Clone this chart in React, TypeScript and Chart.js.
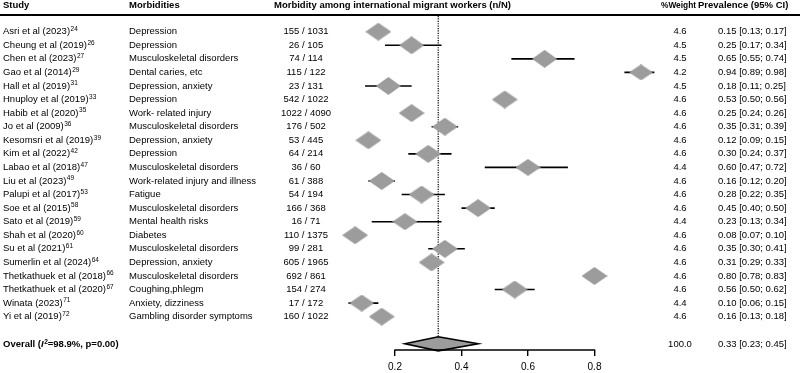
import React, { useEffect, useRef } from "react";
import { Chart, registerables } from "chart.js";

Chart.register(...registerables);

const studies = [
  "Asri et al (2023)", "Cheung et al (2019)", "Chen et al (2023)", "Gao et al (2014)",
  "Hall et al (2019)", "Hnuploy et al (2019)", "Habib et al (2020)", "Jo et al (2009)",
  "Kesomsri et al (2019)", "Kim et al (2022)", "Labao et al (2018)", "Liu et al (2023)",
  "Palupi et al (2017)", "Soe et al (2015)", "Sato et al (2019)", "Shah et al (2020)",
  "Su et al (2021)", "Sumerlin et al (2024)", "Thetkathuek et al (2018)", "Thetkathuek et al (2020)",
  "Winata (2023)", "Yi et al (2019)",
];
const refs = ["24", "26", "27", "29", "31", "33", "35", "36", "39", "42", "47", "49", "53", "58", "59", "60", "61", "64", "66", "67", "71", "72"];
const morbidities = [
  "Depression", "Depression", "Musculoskeletal disorders", "Dental caries, etc",
  "Depression, anxiety", "Depression", "Work- related injury", "Musculoskeletal disorders",
  "Depression, anxiety", "Depression", "Musculoskeletal disorders", "Work-related injury and illness",
  "Fatigue", "Musculoskeletal disorders", "Mental health risks", "Diabetes",
  "Musculoskeletal disorders", "Depression, anxiety", "Musculoskeletal disorders", "Coughing,phlegm",
  "Anxiety, dizziness", "Gambling disorder symptoms",
];
const cases = [155, 26, 74, 115, 23, 542, 1022, 176, 53, 64, 36, 61, 54, 166, 16, 110, 99, 605, 692, 154, 17, 160];
const totals = [1031, 105, 114, 122, 131, 1022, 4090, 502, 445, 214, 60, 388, 194, 368, 71, 1375, 281, 1965, 861, 274, 172, 1022];
const weights = [4.6, 4.5, 4.5, 4.2, 4.5, 4.6, 4.6, 4.6, 4.6, 4.6, 4.4, 4.6, 4.6, 4.6, 4.4, 4.6, 4.6, 4.6, 4.6, 4.6, 4.4, 4.6];
const estimates = [0.15, 0.25, 0.65, 0.94, 0.18, 0.53, 0.25, 0.35, 0.12, 0.30, 0.60, 0.16, 0.28, 0.45, 0.23, 0.08, 0.35, 0.31, 0.80, 0.56, 0.10, 0.16];
const lowers = [0.13, 0.17, 0.55, 0.89, 0.11, 0.50, 0.24, 0.31, 0.09, 0.24, 0.47, 0.12, 0.22, 0.40, 0.13, 0.07, 0.30, 0.29, 0.78, 0.50, 0.06, 0.13];
const uppers = [0.17, 0.34, 0.74, 0.98, 0.25, 0.56, 0.26, 0.39, 0.15, 0.37, 0.72, 0.20, 0.35, 0.50, 0.34, 0.10, 0.41, 0.33, 0.83, 0.62, 0.15, 0.18];

const overallEstimate = 0.33;
const overallLower = 0.23;
const overallUpper = 0.45;
const overallWeight = 100.0;
const overallI2 = "98.9%";
const overallP = "0.00";

const xTicks = [0.2, 0.4, 0.6, 0.8];

const headers = {
  study: "Study",
  morbidity: "Morbidities",
  effect: "Morbidity among international migrant workers (n/N)",
  weight: "%Weight",
  prevalence: "Prevalence (95% CI)",
};

const FONT = '"Liberation Sans", Arial, Helvetica, sans-serif';
const GRAY = "#9c9c9c";
const ROW_PX = 13.57;
const ROW1_PX = 31.7;
const AXIS_PX = 350;
const OVERALL_ROW = studies.length + 2;
const OVERALL_HALF = 0.516;

function makeDiamond(w: number, h: number) {
  const c = document.createElement("canvas");
  c.width = w;
  c.height = h;
  const g = c.getContext("2d")!;
  g.fillStyle = GRAY;
  g.beginPath();
  g.moveTo(0, h / 2);
  g.lineTo(w / 2, 0);
  g.lineTo(w, h / 2);
  g.lineTo(w / 2, h);
  g.closePath();
  g.fill();
  return c;
}

const fmt2 = (v: number) => v.toFixed(2);

const forestPlugin = {
  id: "forestText",
  afterDatasetsDraw(chart: any) {
    const { ctx, scales, chartArea } = chart;
    const x = scales.x;
    const y = scales.y;
    const yc = y.getPixelForValue(OVERALL_ROW);
    const yt = y.getPixelForValue(OVERALL_ROW - OVERALL_HALF);
    const yb = y.getPixelForValue(OVERALL_ROW + OVERALL_HALF);
    ctx.save();
    ctx.beginPath();
    ctx.moveTo(x.getPixelForValue(overallLower), yc);
    ctx.lineTo(x.getPixelForValue(overallEstimate), yt);
    ctx.lineTo(x.getPixelForValue(overallUpper), yc);
    ctx.lineTo(x.getPixelForValue(overallEstimate), yb);
    ctx.closePath();
    ctx.fillStyle = GRAY;
    ctx.fill();
    ctx.lineWidth = 1.6;
    ctx.strokeStyle = "#000";
    ctx.lineJoin = "miter";
    ctx.stroke();
    ctx.beginPath();
    ctx.lineWidth = 1.4;
    ctx.moveTo(x.getPixelForValue(xTicks[0]) - 0.7, chartArea.bottom);
    ctx.lineTo(x.getPixelForValue(xTicks[xTicks.length - 1]) + 0.7, chartArea.bottom);
    ctx.stroke();
    ctx.restore();
  },
  afterDraw(chart: any) {
    const { ctx, scales } = chart;
    const y = scales.y;
    const reg = `9.5px ${FONT}`;
    const bold = `bold 9.5px ${FONT}`;
    const sup = `6.5px ${FONT}`;
    ctx.save();
    ctx.fillStyle = "#000";
    ctx.textBaseline = "middle";
    const hy = 5.5;
    ctx.font = bold;
    ctx.textAlign = "left";
    ctx.fillText(headers.study, 3, hy);
    ctx.fillText(headers.morbidity, 129, hy);
    ctx.fillText(headers.effect, 274, hy);
    ctx.fillText(headers.weight, 661, hy, 35);
    ctx.fillText(headers.prevalence, 698, hy);
    ctx.beginPath();
    ctx.lineWidth = 2;
    ctx.strokeStyle = "#000";
    ctx.moveTo(0, 15);
    ctx.lineTo(800, 15);
    ctx.stroke();
    studies.forEach((s, i) => {
      const py = y.getPixelForValue(i + 1);
      ctx.font = reg;
      ctx.textAlign = "left";
      ctx.fillText(s, 3, py);
      const w = ctx.measureText(s).width;
      ctx.fillText(morbidities[i], 129, py);
      ctx.textAlign = "center";
      ctx.fillText(`${cases[i]} / ${totals[i]}`, 306, py);
      ctx.fillText(weights[i].toFixed(1), 680, py);
      ctx.textAlign = "left";
      ctx.fillText(`${fmt2(estimates[i])} [${fmt2(lowers[i])}; ${fmt2(uppers[i])}]`, 718, py);
      ctx.font = sup;
      ctx.fillText(refs[i], 3 + w + 0.5, py - 2.5);
    });
    const oy = y.getPixelForValue(OVERALL_ROW) + 1;
    let ox = 3;
    ctx.textAlign = "left";
    ctx.font = bold;
    ctx.fillText("Overall (", ox, oy);
    ox += ctx.measureText("Overall (").width;
    ctx.font = `italic bold 9.5px ${FONT}`;
    ctx.fillText("I", ox, oy);
    ox += ctx.measureText("I").width + 0.5;
    ctx.font = `bold 6.5px ${FONT}`;
    ctx.fillText("2", ox, oy - 2.5);
    ox += ctx.measureText("2").width;
    ctx.font = bold;
    ctx.fillText(`=${overallI2}, p=${overallP})`, ox, oy);
    ctx.font = reg;
    ctx.textAlign = "center";
    ctx.fillText(overallWeight.toFixed(1), 680, oy);
    ctx.textAlign = "left";
    ctx.fillText(`${fmt2(overallEstimate)} [${fmt2(overallLower)}; ${fmt2(overallUpper)}]`, 718, oy);
    ctx.restore();
  },
};

export default function App() {
  const ref = useRef<HTMLCanvasElement | null>(null);
  useEffect(() => {
    document.body.style.margin = "0";
    const canvas = ref.current!;
    const diamonds = weights.map((w) =>
      makeDiamond(Math.round((26 * w) / 4.6), Math.round((18 * w) / 4.6))
    );
    const ciSets = studies.map((_, i) => ({
      data: [
        { x: lowers[i], y: i + 1 },
        { x: uppers[i], y: i + 1 },
      ],
      showLine: true,
      borderColor: "#000",
      borderWidth: 1.6,
      pointRadius: 0,
      order: 2,
    }));
    const yMin = 1 - ROW1_PX / ROW_PX;
    const yMax = 1 + (AXIS_PX - ROW1_PX) / ROW_PX;
    const chart = new Chart(canvas, {
      type: "scatter",
      data: {
        datasets: [
          {
            data: estimates.map((e, i) => ({ x: e, y: i + 1 })),
            pointStyle: diamonds as any,
            pointRadius: 5,
            pointHoverRadius: 5,
            order: 0,
          } as any,
          ...ciSets,
          {
            data: [
              { x: overallEstimate, y: -0.16 },
              { x: overallEstimate, y: OVERALL_ROW - OVERALL_HALF },
            ],
            showLine: true,
            borderColor: "#000",
            borderWidth: 1.2,
            borderDash: [1.2, 1.2],
            pointRadius: 0,
            order: 3,
          },
        ],
      },
      options: {
        animation: false,
        responsive: false,
        devicePixelRatio: 1,
        layout: { autoPadding: false, padding: { left: 328.5, right: 139, top: 0, bottom: 0 } },
        plugins: { legend: { display: false }, tooltip: { enabled: false } },
        events: [],
        scales: {
          x: {
            type: "linear",
            min: 0,
            max: 1,
            afterBuildTicks: (scale: any) => {
              scale.ticks = xTicks.map((v) => ({ value: v }));
            },
            afterFit: (scale: any) => {
              scale.height = 373 - AXIS_PX;
            },
            grid: {
              display: true,
              drawOnChartArea: false,
              drawTicks: true,
              tickLength: 6,
              color: "#000",
              lineWidth: 1.4,
            },
            border: { display: false },
            ticks: {
              padding: 5,
              color: "#000",
              font: { family: FONT, size: 10 },
              callback: (v: any) => Number(v).toFixed(1),
            },
          },
          y: {
            type: "linear",
            display: false,
            reverse: true,
            min: yMin,
            max: yMax,
          },
        },
      } as any,
      plugins: [forestPlugin],
    });
    return () => chart.destroy();
  }, []);
  return (
    <div style={{ width: 800, height: 373 }}>
      <canvas ref={ref} width={800} height={373} style={{ display: "block", width: 800, height: 373 }} />
    </div>
  );
}
